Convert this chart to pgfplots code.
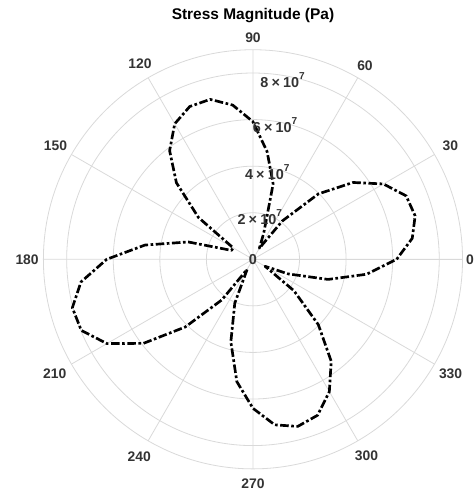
\documentclass[border=0pt]{standalone}
\usepackage{fontspec}
\setmainfont{Liberation Sans}
\usepackage{pgfplots}
\pgfplotsset{compat=1.18}
\usepgfplotslibrary{polar}
\definecolor{gridc}{HTML}{D9D9D9}
\definecolor{tickc}{HTML}{333333}
\begin{document}
\begin{tikzpicture}
\begin{polaraxis}[
  at={(0,0)}, anchor=center,
  scale only axis, width=314.4pt, height=314.4pt,
  ymin=0, ymax=9e7,
  xtick={0,30,...,330},
  xticklabels={},
  ytick={2e7,4e7,6e7,8e7},
  yticklabels={},
  scaled y ticks=false,
  major tick length=0pt,
  grid=major,
  major grid style={draw=gridc, line width=0.6pt},
  axis line style={draw=gridc, line width=0.6pt},
  clip=false,
]
\addplot[black, line width=2pt, line join=round, dash pattern=on 2pt off 1.9pt on 6.4pt off 1.9pt] coordinates {
(0,6.17e7) (7.5,6.90e7) (15,7.21e7) (22.5,7.12e7) (30,6.47e7) (37.5,5.42e7) (45,3.97e7) (52.5,2.08e7)
(60,0.55e7) (67.5,1.2e7) (75,3.35e7) (82.5,4.66e7) (90,5.91e7) (97.5,6.68e7) (105,7.11e7) (112.5,7.10e7)
(120,6.72e7) (127.5,5.88e7) (135,4.65e7) (142.5,2.95e7) (150,0.98e7) (157.5,1.0e7) (165,2.88e7) (172.5,4.68e7)
(180,6.28e7) (187.5,7.45e7) (195,8.03e7) (202.5,7.98e7) (210,7.24e7) (217.5,5.93e7) (225,4.11e7) (232.5,2.20e7)
(240,0.5e7) (247.5,2.04e7) (255,3.67e7) (262.5,5.30e7) (270,6.40e7) (277.5,7.17e7) (285,7.43e7) (292.5,7.25e7)
(300,6.56e7) (307.5,5.52e7) (315,3.97e7) (322.5,2.22e7) (330,0.6e7) (337.5,1.64e7) (345,3.34e7) (352.5,4.92e7)
(360,6.17e7)
};
\begin{scope}[every node/.style={font=\bfseries\fontsize{10.4}{12}\selectfont, text=tickc, inner sep=0pt}]
\node at (axis cs:0,9.32e7) {0};
\node at (axis cs:30,9.79e7) {30};
\node at (axis cs:60,9.62e7) {60};
\node at (axis cs:90,9.53e7) {90};
\node at (axis cs:120,9.70e7) {120};
\node at (axis cs:150,9.79e7) {150};
\node at (axis cs:180,9.70e7) {180};
\node at (axis cs:210,9.83e7) {210};
\node at (axis cs:240,9.77e7) {240};
\node at (axis cs:270,9.62e7) {270};
\node at (axis cs:300,9.75e7) {300};
\node at (axis cs:330,9.80e7) {330};
\end{scope}
\begin{scope}[every node/.style={font=\bfseries\fontsize{10.8}{12}\selectfont, text=tickc, inner sep=0pt}]
\node at (axis cs:80.5,7.81e7) {8\hspace{0.22em}×\hspace{0.22em}10\raisebox{0.15em}{\textsuperscript{7}}};
\node at (axis cs:80.5,5.84e7) {6\hspace{0.22em}×\hspace{0.22em}10\raisebox{0.15em}{\textsuperscript{7}}};
\node at (axis cs:80.5,3.80e7) {4\hspace{0.22em}×\hspace{0.22em}10\raisebox{0.15em}{\textsuperscript{7}}};
\node at (axis cs:80.5,1.84e7) {2\hspace{0.22em}×\hspace{0.22em}10\raisebox{0.15em}{\textsuperscript{7}}};
\node at (axis cs:0,0) {0};
\end{scope}
\end{polaraxis}
\node[font=\bfseries\fontsize{11.6}{14}\selectfont, anchor=base] at (0,179.5pt) {Stress Magnitude (Pa)};
\pgfresetboundingbox
\path[use as bounding box] (-189.75pt,-173.8pt) rectangle (165.75pt,194.5pt);
\end{tikzpicture}
\end{document}
